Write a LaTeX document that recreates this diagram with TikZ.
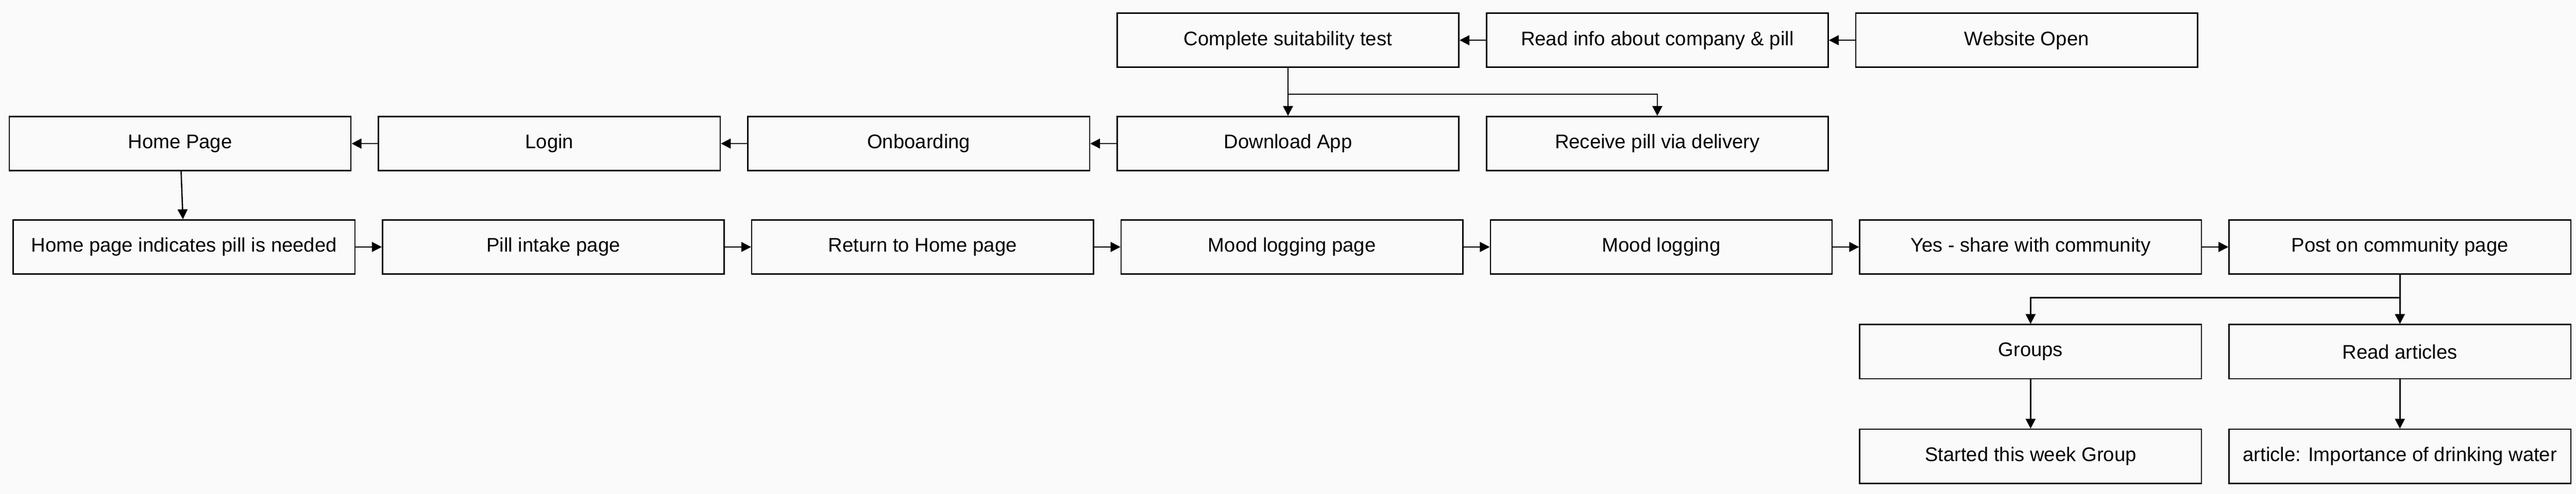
\documentclass[tikz,border=0pt]{standalone}
\usepackage{fontspec}
\setmainfont{Liberation Sans}
\usetikzlibrary{positioning,arrows.meta}
\tikzset{every picture/.style={line width=0.8pt}}
\tikzset{
	stage/.style={draw, minimum width=208pt, minimum height=33pt, inner sep=0pt, font=\fontsize{12}{14}\selectfont},
	flow/.style={-{Triangle[length=6pt,width=6pt]}}}

\begin{document}
\begin{tikzpicture}[x=1pt,y=1pt]
	\fill [fill={rgb,255:red,250;green,250;blue,250}] (0,0) rectangle (1568,-301);
	\useasboundingbox (0,0) rectangle (1568,-301);

	% top row
	\node [stage] (suit) at (784,-24.5) {Complete suitability test};
	\node [stage, right=16pt of suit] (info) {Read info about company \& pill};
	\node [stage, right=16pt of info] (open) {Website Open};

	% second row
	\node [stage] (download) at (784,-87.5) {Download App};
	\node [stage, left=16pt of download] (onboard) {Onboarding};
	\node [stage, left=16pt of onboard] (login) {Login};
	\node [stage, left=16pt of login] (home) {Home Page};
	\node [stage, right=16pt of download] (receive) {Receive pill via delivery};

	% third row
	\node [stage] (needed) at (112,-150.5) {Home page indicates pill is needed};
	\node [stage, right=16pt of needed] (intake) {Pill intake page};
	\node [stage, right=16pt of intake] (return) {Return to Home page};
	\node [stage, right=16pt of return] (moodpage) {Mood logging page};
	\node [stage, right=16pt of moodpage] (mood) {Mood logging};
	\node [stage, right=16pt of mood] (share) {Yes - share with community};
	\node [stage, right=16pt of share] (post) {Post on community page};

	% community
	\node [stage, below=30pt of share] (groups) {Groups};
	\node [stage, below=30pt of post] (articles) {Read articles};
	\node [stage, below=30pt of groups] (started) {Started this week Group};
	\node [stage, below=30pt of articles] (water) {article: Importance of drinking water};

	\draw [flow] (open) -- (info);
	\draw [flow] (info) -- (suit);
	\draw [flow] (suit) -- (download);
	\draw [flow] (suit.south) -- ++(0,-16) -| (receive.north);
	\draw [flow] (download) -- (onboard);
	\draw [flow] (onboard) -- (login);
	\draw [flow] (login) -- (home);
	\draw [flow] (home) -- (needed);
	\draw [flow] (needed) -- (intake);
	\draw [flow] (intake) -- (return);
	\draw [flow] (return) -- (moodpage);
	\draw [flow] (moodpage) -- (mood);
	\draw [flow] (mood) -- (share);
	\draw [flow] (share) -- (post);
	\draw [flow] (post) -- (articles);
	\draw [flow] (post.south) -- ++(0,-14) -| (groups.north);
	\draw [flow] (groups) -- (started);
	\draw [flow] (articles) -- (water);
\end{tikzpicture}
\end{document}
